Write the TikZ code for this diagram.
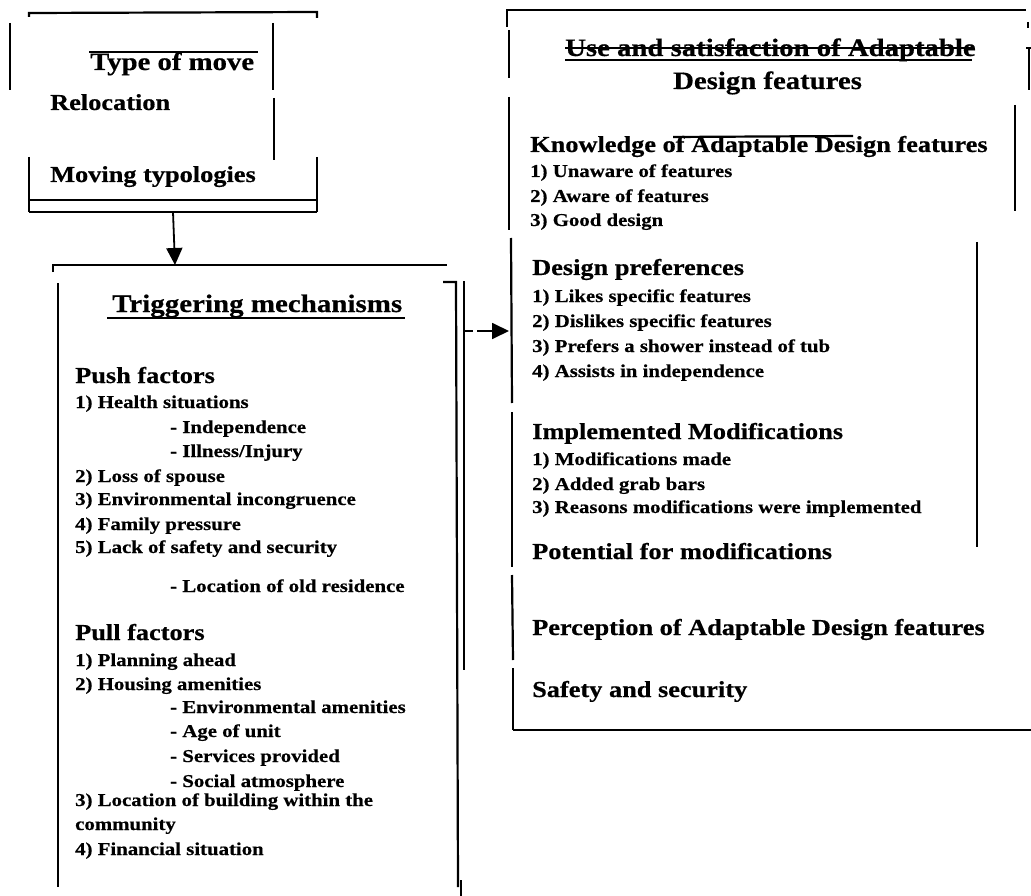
\documentclass[tikz,border=0pt]{standalone}
\usepackage{fontspec}
\setmainfont[FakeStretch=1.15,BoldFeatures={FakeBold=0.5}]{Liberation Serif}
\usetikzlibrary{arrows.meta}
\begin{document}
\begin{tikzpicture}[x=1pt,y=-1pt,
  ttl/.style={font=\fontsize{25}{30}\selectfont\bfseries, anchor=base west, inner sep=0pt},
  hd/.style={font=\fontsize{22.9}{27}\selectfont\bfseries, anchor=base west, inner sep=0pt},
  itm/.style={font=\fontsize{18.1}{22}\selectfont\bfseries, anchor=base west, inner sep=0pt},
  ln/.style={line width=2.2pt, line cap=butt},
  thin/.style={line width=1.6pt},
  arr/.style={line width=1.8pt, -{Triangle[length=17pt,width=16pt]}}]
\useasboundingbox (0,0) rectangle (1031,896);

% ---------------- Type of move box ----------------
\draw[ln] (29,17) -- (29,13) -- (317,12) -- (317,18);
\draw[ln] (10,23) -- (10,90);
\draw[thin] (89,52) -- (258,52);
\draw[ln] (273,23) -- (273,90);
\draw[ln] (274,98) -- (274,160);
\draw[ln] (29,157) -- (29,212);
\draw[ln] (317,157) -- (317,212);
\draw[ln] (29,200) -- (317,200);
\draw[ln] (29,212) -- (317,212);

\node[ttl] (typemove) at (90,70) {Type of move};
\node[hd] (reloc) at (50,110) {Relocation};
\node[hd] (movtyp) at (50,182) {Moving typologies};

\coordinate (tmB) at (173,212);
\coordinate (trT) at (175,265);
\draw[arr] (tmB) -- (trT);

% ---------------- Triggering mechanisms box ----------------
\draw[ln] (53,272) -- (53,265) -- (447,265);
\draw[ln] (58,283) -- (58,887);
\draw[ln] (443,282) -- (456,282) -- (458,887);
\draw[ln] (461,880) -- (461,896);
\draw[ln] (464,281) -- (464,670);

\node[ttl, font=\fontsize{25.2}{30}\selectfont\bfseries] (trig) at (112,312) {Triggering mechanisms};
\draw[thin] (107,318) -- (405,318);

\node[hd] (push) at (75,383) {Push factors};
\node[itm] (p1) at (75,408) {1) Health situations};
\node[itm] (p1a) at (170,433) {- Independence};
\node[itm] (p1b) at (170,457) {- Illness/Injury};
\node[itm] (p2) at (75,482) {2) Loss of spouse};
\node[itm] (p3) at (75,505) {3) Environmental incongruence};
\node[itm] (p4) at (75,530) {4) Family pressure};
\node[itm] (p5) at (75,553) {5) Lack of safety and security};
\node[itm] (p5a) at (170,592) {- Location of old residence};

\node[hd] (pull) at (75,640) {Pull factors};
\node[itm] (q1) at (75,666) {1) Planning ahead};
\node[itm] (q2) at (75,690) {2) Housing amenities};
\node[itm] (q2a) at (170,713) {- Environmental amenities};
\node[itm] (q2b) at (170,737) {- Age of unit};
\node[itm] (q2c) at (170,762) {- Services provided};
\node[itm] (q2d) at (170,787) {- Social atmosphere};
\node[itm] (q3) at (75,806) {3) Location of building within the};
\node[itm] (q3b) at (75,830) {community};
\node[itm] (q4) at (75,855) {4) Financial situation};

% ---------------- Use and satisfaction box ----------------
\draw[ln] (507,27) -- (507,10) -- (1026,10);
\draw[ln] (1028,22) -- (1028,28);
\draw[ln] (1026,48) -- (1031,48);
\draw[ln] (1029,48) -- (1029,90);
\draw[ln] (509,30) -- (509,78);
\draw[ln] (509,97) -- (509,230);
\draw[ln] (511,238) -- (512,403);
\draw[ln] (512,412) -- (512,567);
\draw[ln] (512,575) -- (513,660);
\draw[ln] (513,668) -- (513,730);
\draw[ln] (513,730) -- (1031,730);
\draw[ln] (1015,105) -- (1015,211);
\draw[ln] (977,242) -- (977,547);

\node[ttl] (use) at (565,56) {Use and satisfaction of Adaptable};
\draw[thin] (565,48) -- (972,48);
\draw[thin] (565,60) -- (972,60);
\node[ttl] (desf) at (673,89) {Design features};

\node[hd] (know) at (530,152) {Knowledge of Adaptable Design features};
\draw[ln] (673,137) -- (853,136);
\node[itm] (k1) at (530,177) {1) Unaware of features};
\node[itm] (k2) at (530,202) {2) Aware of features};
\node[itm] (k3) at (530,226) {3) Good design};

\node[hd] (pref) at (532,275) {Design preferences};
\node[itm] (d1) at (532,302) {1) Likes specific features};
\node[itm] (d2) at (532,327) {2) Dislikes specific features};
\node[itm] (d3) at (532,352) {3) Prefers a shower instead of tub};
\node[itm] (d4) at (532,377) {4) Assists in independence};

\node[hd] (impl) at (532,439) {Implemented Modifications};
\node[itm] (m1) at (532,465) {1) Modifications made};
\node[itm] (m2) at (532,490) {2) Added grab bars};
\node[itm] (m3) at (532,513) {3) Reasons modifications were implemented};

\node[hd] (pot) at (532,559) {Potential for modifications};
\node[hd] (perc) at (532,635) {Perception of Adaptable Design features};
\node[hd] (safe) at (532,697) {Safety and security};

% ---------------- dashed connector ----------------
\coordinate (trR) at (464,331);
\coordinate (usL) at (509,331);
\draw[arr, dash pattern=on 9pt off 4pt on 80pt] (trR) -- (usL);
\end{tikzpicture}
\end{document}
